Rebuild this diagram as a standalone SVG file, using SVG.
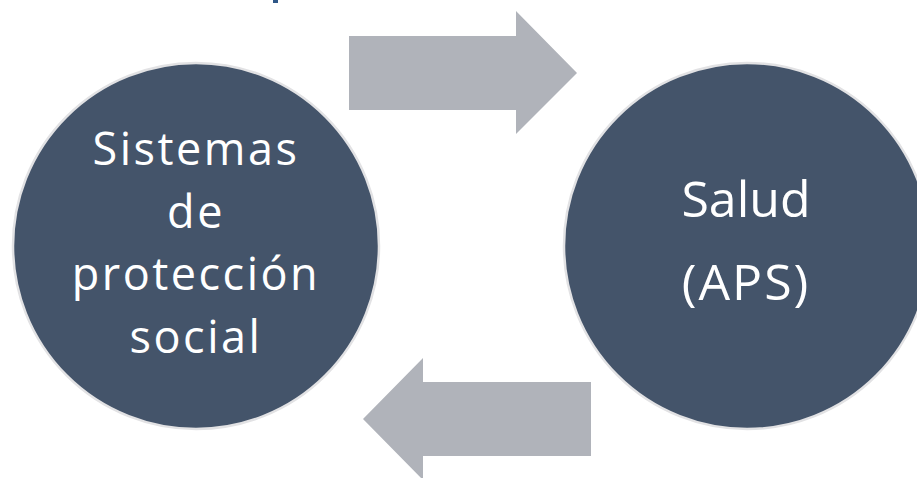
<svg xmlns="http://www.w3.org/2000/svg" width="917" height="478" viewBox="0 0 917 478">
<style>
.node{fill:#44546a;stroke:#e2e2e4;stroke-width:2.5}
.lbl{fill:#ffffff;font-family:"Open Sans","Noto Sans",sans-serif;text-anchor:middle}
.arrow{fill:#b0b3ba}
</style>
<rect width="917" height="478" fill="#ffffff"/>
<rect x="273" y="0" width="5" height="3" fill="#2f5787"/>
<g id="connectors">
<polygon class="arrow" points="349,36 516,36 516,11 577,73 516,134 516,110 349,110"/>
<polygon class="arrow" points="591,382 423,382 423,358 363,419 423,480 423,456 591,456"/>
</g>
<g id="node-sistemas">
<circle class="node" cx="196" cy="246" r="183"/>
<text class="lbl" font-size="45" letter-spacing="2.5"><tspan x="196" y="165">Sistemas</tspan><tspan x="196" y="228">de</tspan><tspan x="196" y="290">protección</tspan><tspan x="196" y="353">social</tspan></text>
</g>
<g id="node-salud">
<circle class="node" cx="747" cy="246" r="183"/>
<text class="lbl" font-size="50"><tspan x="746" y="217">Salud</tspan><tspan x="746" y="300" letter-spacing="2">(APS)</tspan></text>
</g>
</svg>
